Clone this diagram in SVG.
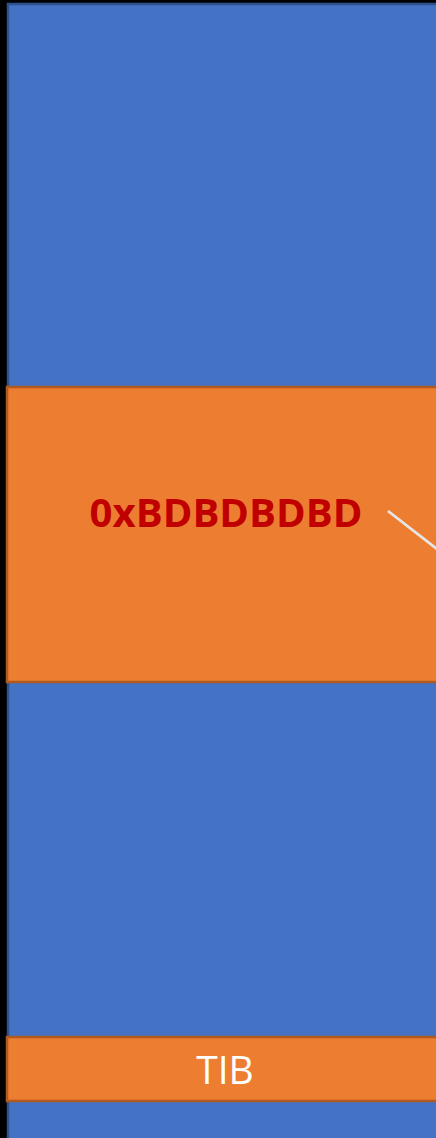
<svg xmlns="http://www.w3.org/2000/svg" width="436" height="1138" viewBox="0 0 436 1138">
<style>
.blue{fill:#4472C4;stroke:#2F528F;stroke-width:2.5}
.orange{fill:#ED7D31;stroke:#AE5A21;stroke-width:2.5}
.val{font-family:"Open Sans","Liberation Sans",sans-serif;font-weight:bold;font-size:40px;fill:#C00000}
.lbl{font-family:"Open Sans","Liberation Sans",sans-serif;font-size:39px;fill:#FFFFFF}
</style>
<rect x="0" y="0" width="436" height="1138" fill="#000000"/>
<g id="stack"><rect class="blue" x="8" y="4" width="440" height="1150"/></g>
<g id="value-box">
<rect class="orange" x="7" y="387" width="440" height="295"/>
<text class="val" x="226" y="527" text-anchor="middle" textLength="273" lengthAdjust="spacingAndGlyphs">0xBDBDBDBD</text>
</g>
<g id="tib">
<rect class="orange" x="7" y="1037" width="440" height="64"/>
<text class="lbl" x="225" y="1084" text-anchor="middle">TIB</text>
</g>
<g id="connectors"><line x1="388" y1="511" x2="437" y2="549" stroke="#E7E6E6" stroke-width="2.8"/></g>
</svg>
